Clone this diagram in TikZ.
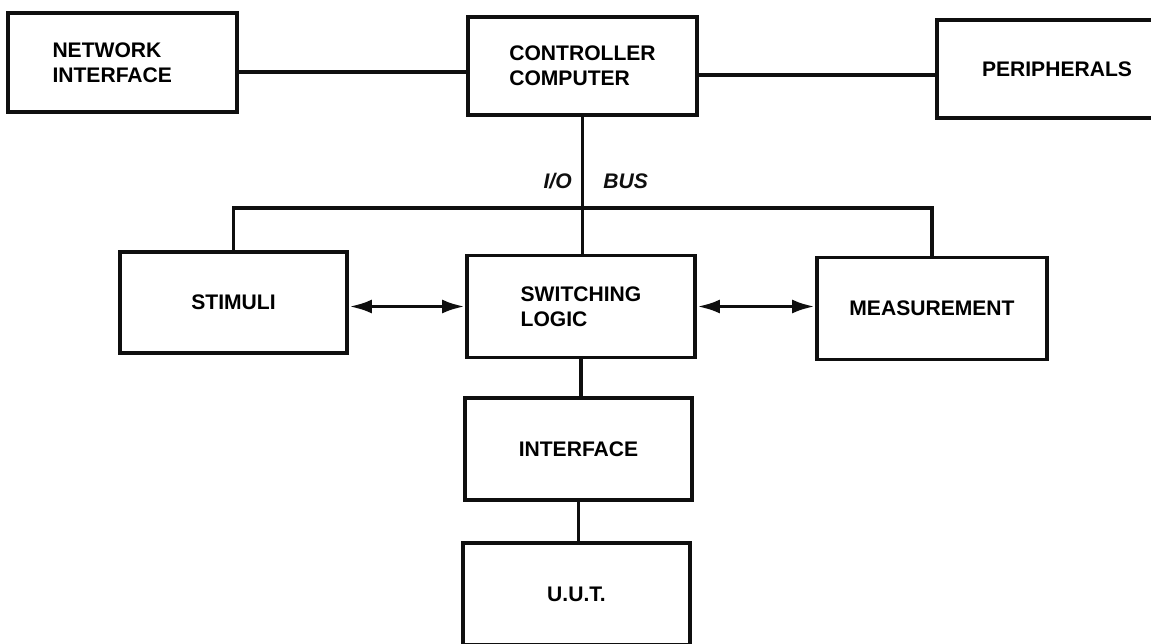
\documentclass[tikz,border=0pt]{standalone}
\usepackage{fontspec}
\setmainfont{Liberation Sans}
\usepackage{tikz}
\usetikzlibrary{arrows.meta,positioning}
\definecolor{ink}{RGB}{15,15,15}
\tikzset{
  blk/.style={draw=ink,line width=2.2pt,minimum width=4.56cm,minimum height=2.04cm,
    font=\bfseries\fontsize{12}{14}\selectfont,align=left,inner sep=0pt},
  wire/.style={line width=2.1pt,ink},
  biarr/.style={{Latex[length=4.6mm,width=2.8mm]}-{Latex[length=4.6mm,width=2.8mm]},
    line width=2.2pt,ink},
  buslbl/.style={font=\bfseries\itshape\fontsize{12}{14}\selectfont,inner sep=0pt,text=ink},
}

\begin{document}
\begin{tikzpicture}
\useasboundingbox (0,0) rectangle (23.02,-12.86);
% top row
\node[blk,minimum width=4.58cm,minimum height=1.98cm,text width=2.8cm] (netif) at (2.45,-1.25) {NETWORK\\INTERFACE};
\node[blk,minimum width=4.58cm,minimum height=1.96cm] (ctrl) at (11.65,-1.32) {CONTROLLER\\COMPUTER};
\node[blk,minimum width=4.8cm,minimum height=1.96cm] (peri) at (21.14,-1.38) {PERIPHERALS};
% middle row
\node[blk,minimum width=4.54cm,minimum height=2.02cm] (stim) at (4.67,-6.05) {STIMULI};
\node[blk] (swl) at (11.62,-6.13) {SWITCHING\\LOGIC};
\node[blk,minimum width=4.6cm] (meas) at (18.64,-6.17) {MEASUREMENT};
% bottom column
\node[blk,minimum width=4.54cm] (intf) at (11.57,-8.98) {INTERFACE};
\node[blk,minimum width=4.54cm] (uut) at (11.53,-11.88) {U.U.T.};

\coordinate (bus) at (ctrl.south |- 0,-4.16);
\node[buslbl,anchor=east] (iolbl) at (11.44,-3.63) {I/O};
\node[buslbl,anchor=west] (buslbl) at (12.06,-3.63) {BUS};

\draw[wire] ([yshift=-5.4pt]netif.east) -- ([yshift=-5.4pt]netif.east -| ctrl.west);
\draw[wire] ([yshift=-5pt]ctrl.east) -- ([yshift=-5pt]ctrl.east -| peri.west);
\draw[wire] (ctrl.south) -- (ctrl.south |- swl.north);
\draw[wire] (stim.north) |- (bus) -| (meas.north);
\draw[biarr] (swl.west -| stim.east) -- (swl.west);
\draw[biarr] (swl.east) -- (swl.east -| meas.west);
\draw[wire] (swl.south) -- (swl.south |- intf.north);
\draw[wire] (intf.south) -- (intf.south |- uut.north);
\end{tikzpicture}
\end{document}
